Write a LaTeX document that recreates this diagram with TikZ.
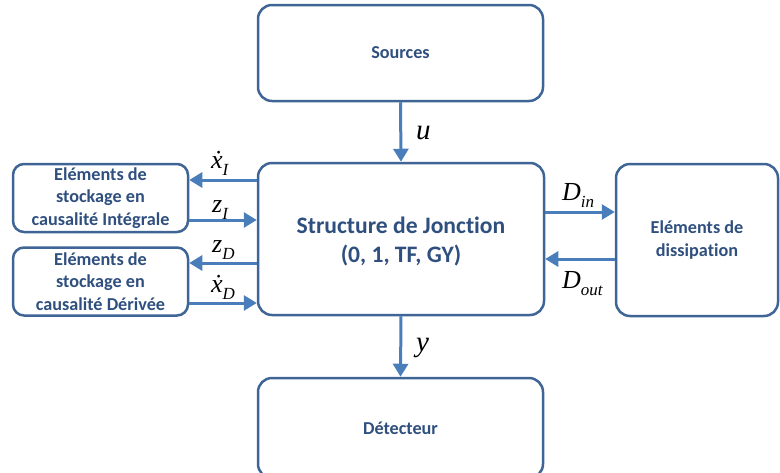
\documentclass[tikz,border=0pt]{standalone}
\usepackage{fontspec}
\setmainfont[Ligatures=NoCommon]{Carlito}
\newfontfamily\labfont{Liberation Serif}
\usetikzlibrary{arrows.meta}
\definecolor{boxc}{HTML}{3E6596}
\definecolor{txtc}{HTML}{2F4F7F}
\definecolor{arrc}{HTML}{4A7EBB}
\newcommand{\lb}[3][26]{{\labfont\itshape\fontsize{#1}{#1}\selectfont #2\raisebox{-7.5pt}{\fontsize{17}{17}\selectfont #3}}}
\tikzset{
  blk/.style={draw=boxc, line width=2.5pt, rounded corners=14pt, fill=white, inner sep=0pt,
    text=txtc, font=\bfseries\fontsize{18.2}{22.5}\selectfont, align=center},
  sblk/.style={blk, rounded corners=11pt},
  conn/.style={draw=arrc, line width=3pt, -{Triangle[length=13pt,width=15pt]}},
  lab/.style={inner sep=0pt, anchor=base west},
  jtxt/.style={text=txtc, font=\bfseries\fontsize{23.6}{29}\selectfont, inner sep=0pt, anchor=base}
}
\begin{document}
\begin{tikzpicture}[x=1pt,y=-1pt]
\useasboundingbox (0,0) rectangle (780,472);
\node[blk, minimum width=285pt, minimum height=96pt] (src) at (400.5,53) {Sources};
\node[blk, minimum width=286pt, minimum height=152pt] (js) at (401,239) {};
\node[jtxt] (jst1) at (401,233) {Structure de Jonction};
\node[jtxt] (jst2) at (401,262) {(0, 1, TF, GY)};
\node[blk, minimum width=285pt, minimum height=100pt] (det) at (400.5,428) {Détecteur};
\node[sblk, minimum width=175pt, minimum height=68pt] (si) at (100.5,198) {Eléments de\\stockage en\\causalité Intégrale};
\node[sblk, minimum width=175pt, minimum height=68pt] (sd) at (100.5,281.5) {Eléments de\\stockage en\\causalité Dérivée};
\node[blk, minimum width=162pt, minimum height=152pt] (dis) at (697,240) {Eléments de\\dissipation};
% connectors
\coordinate (jsW1) at (js.west |- 0,180);
\coordinate (jsW2) at (js.west |- 0,220);
\coordinate (jsW3) at (js.west |- 0,263);
\coordinate (jsW4) at (js.west |- 0,303);
\draw[conn] (jsW1) -- (jsW1 -| si.east);
\draw[conn] (jsW2 -| si.east) -- (jsW2);
\draw[conn] (jsW3) -- (jsW3 -| sd.east);
\draw[conn] (jsW4 -| sd.east) -- (jsW4);
\coordinate (jsE1) at (js.east |- 0,212);
\coordinate (jsE2) at (js.east |- 0,259);
\draw[conn] (jsE1) -- (jsE1 -| dis.west);
\draw[conn] (jsE2 -| dis.west) -- (jsE2);
\draw[conn] (src.south) -- (js.north);
\draw[conn] (js.south) -- (det.north);
% labels
\node[lab] (lxi) at (211,168) {\lb{\.{x}}{I}};
\node[lab] (lzi) at (212,212) {\lb{z}{I}};
\node[lab] (lzd) at (212,252) {\lb{z}{D}};
\node[lab] (lxd) at (211,292) {\lb{\.{x}}{D}};
\node[lab] (ldin) at (562,200) {\lb{D}{in}};
\node[lab] (ldout) at (562,288) {\lb{D}{out}};
\node[lab] (lu) at (416,139) {\lb[29]{u}{}};
\node[lab] (ly) at (416,351) {\lb[29]{y}{}};
\end{tikzpicture}
\end{document}
